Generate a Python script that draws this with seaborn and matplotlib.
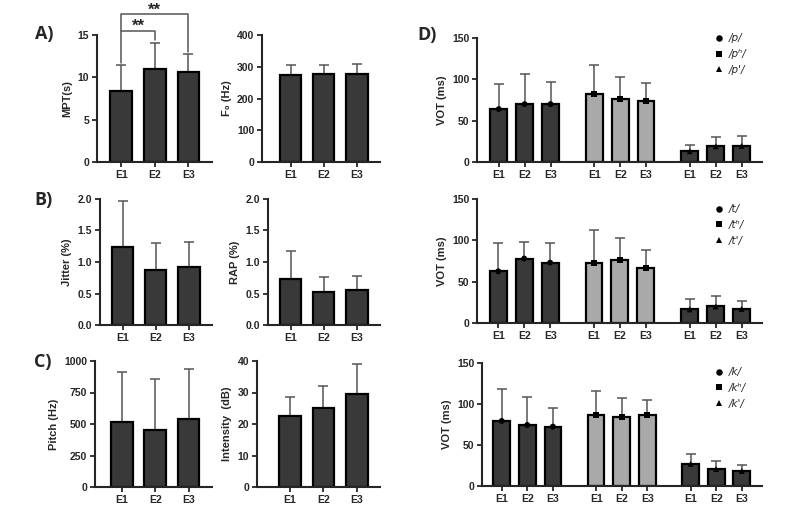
import numpy as np
import pandas as pd
import matplotlib
matplotlib.use('Agg')
import matplotlib.pyplot as plt
import seaborn as sns

# ---- data ----
sessions = ['E1', 'E2', 'E3']

mpt_mean = [8.4, 11.0, 10.6]
mpt_sd = [3.1, 3.0, 2.2]
f0_mean = [275, 278, 277]
f0_sd = [30, 27, 31]
jitter_mean = [1.24, 0.88, 0.92]
jitter_sd = [0.73, 0.42, 0.39]
rap_mean = [0.73, 0.52, 0.55]
rap_sd = [0.45, 0.24, 0.23]
pitch_mean = [518, 453, 539]
pitch_sd = [395, 407, 400]
intensity_mean = [22.6, 25.2, 29.5]
intensity_sd = [6.0, 6.9, 9.4]

# VOT, three phoneme groups x three sessions
p_labels = ['/p/', '/p\u02b0/', "/p'/"]
p_mean = [[64, 70, 70], [82, 76, 73.5], [13, 19, 19.5]]
p_sd = [[30, 37, 27], [35.5, 26.5, 22.5], [7, 11, 12.5]]

t_labels = ['/t/', '/t\u02b0/', "/t'/"]
t_mean = [[62.5, 78, 73], [73, 76, 66], [16.5, 20, 17]]
t_sd = [[34.5, 20.5, 24], [39, 26.5, 22.5], [12, 13, 10]]

k_labels = ['/k/', '/k\u02b0/', "/k'/"]
k_mean = [[79.3, 74.4, 72.4], [86.6, 83.7, 86.6], [27, 20.7, 18.3]]
k_sd = [[38.7, 34.6, 22.3], [29.7, 23.3, 18.4], [12, 9.3, 6.9]]

# ---- style ----
DARK = '#393939'
LIGHT = '#a9a9a9'
ERR = '#555555'

sns.set_style('ticks')
plt.rcParams['font.family'] = ['Liberation Sans', 'DejaVu Sans']
plt.rcParams['font.weight'] = 'bold'
plt.rcParams['axes.labelweight'] = 'bold'
plt.rcParams['axes.linewidth'] = 1.5
plt.rcParams['xtick.major.width'] = 1.3
plt.rcParams['ytick.major.width'] = 1.3
plt.rcParams['xtick.major.size'] = 3.5
plt.rcParams['ytick.major.size'] = 3.5
plt.rcParams['xtick.labelsize'] = 7.5
plt.rcParams['ytick.labelsize'] = 7.5
plt.rcParams['axes.labelsize'] = 8

W, H = 800, 507
fig = plt.figure(figsize=(W / 100, H / 100), dpi=100)


def px_axes(left, top, right, bottom):
    return fig.add_axes([left / W, 1 - bottom / H, (right - left) / W, (bottom - top) / H])


def finish(ax, ylabel, ylim, yticks, ytl=None):
    ax.set_ylim(*ylim)
    ax.set_yticks(yticks)
    if ytl is not None:
        ax.set_yticklabels(ytl)
    ax.set_ylabel(ylabel)
    ax.set_xlabel('')
    sns.despine(ax=ax)
    ax.tick_params(axis='both', pad=2)
    for lab in ax.get_xticklabels() + ax.get_yticklabels():
        lab.set_fontweight('bold')


def simple_bars(box, xlo, means, sds, ylabel, ylim, yticks, ytl=None):
    ax = px_axes(*box)
    sns.barplot(x=sessions, y=means, color=DARK, edgecolor='black', linewidth=1.6,
                width=0.65, errorbar=None, saturation=1, ax=ax)
    xs = [p.get_x() + p.get_width() / 2 for p in ax.patches]
    ax.errorbar(xs, means, yerr=[np.zeros(len(sds)), sds], fmt='none', ecolor=ERR,
                elinewidth=1.1, capsize=3.6, capthick=1.1, zorder=0)
    ax.set_xlim(xlo, 2.7)
    finish(ax, ylabel, ylim, yticks, ytl)
    return ax, xs


def vot_panel(box, xlo, labels, means, sds, legend_top):
    ax = px_axes(*box)
    rows = []
    for g in range(3):
        for s in range(3):
            rows.append({'pos': g * 3.69 + s, 'mean': means[g][s], 'sd': sds[g][s],
                         'phoneme': labels[g], 'shade': 'dark' if g != 1 else 'light'})
    df = pd.DataFrame(rows)
    sns.barplot(data=df, x='pos', y='mean', hue='shade', palette={'dark': DARK, 'light': LIGHT},
                native_scale=True, width=0.65, edgecolor='black', linewidth=1.6,
                errorbar=None, saturation=1, legend=False, ax=ax)
    ax.errorbar(df['pos'], df['mean'], yerr=[np.zeros(len(df)), df['sd']], fmt='none',
                ecolor=ERR, elinewidth=1.1, capsize=3.6, capthick=1.1, zorder=0)
    sns.scatterplot(data=df, x='pos', y='mean', style='phoneme', style_order=labels,
                    markers=['o', 's', '^'], color='black', s=18, edgecolor='none',
                    ax=ax, zorder=5)
    handles, labs = ax.get_legend_handles_labels()
    keep = [(h, l) for h, l in zip(handles, labs) if l in labels]
    ax.legend([h for h, _ in keep], [l for _, l in keep], loc='upper left',
              bbox_to_anchor=((717 - 8 - box[0]) / (box[2] - box[0]), legend_top),
              frameon=False, handletextpad=0.3, labelspacing=0.55, borderaxespad=0,
              handlelength=1.2, markerscale=1.1,
              prop={'style': 'italic', 'weight': 'normal', 'size': 7.5,
                    'family': ['DejaVu Sans']})
    ax.set_xticks(df['pos'])
    ax.set_xticklabels(sessions * 3)
    ax.set_xlim(xlo, 10.17)
    finish(ax, 'VOT (ms)', (0, 150), [0, 50, 100, 150])
    return ax


# ---- panel A ----
axA, xs = simple_bars((97, 35, 212, 162), -0.72, mpt_mean, mpt_sd, 'MPT(s)',
                      (0, 15), [0, 5, 10, 15])
line_kw = dict(color=ERR, lw=1.1, clip_on=False)
axA.plot([xs[0], xs[0], xs[1], xs[1]], [11.7, 15.5, 15.5, 14.4], **line_kw)
axA.plot([xs[0], xs[0], xs[2], xs[2]], [15.5, 17.5, 17.5, 13.0], **line_kw)
axA.text((xs[0] + xs[1]) / 2, 16.0, '**', ha='center', va='center', fontsize=12,
         fontweight='bold', clip_on=False)
axA.text((xs[0] + xs[2]) / 2, 17.95, '**', ha='center', va='center', fontsize=12,
         fontweight='bold', clip_on=False)

simple_bars((262, 35, 380, 162), -0.86, f0_mean, f0_sd, 'F\u2080 (Hz)',
            (0, 400), [0, 100, 200, 300, 400])

# ---- panel B ----
simple_bars((100, 199, 212, 325), -0.68, jitter_mean, jitter_sd, 'Jitter (%)',
            (0, 2.0), [0, 0.5, 1.0, 1.5, 2.0], ['0.0', '0.5', '1.0', '1.5', '2.0'])
simple_bars((268, 199, 380, 325), -0.68, rap_mean, rap_sd, 'RAP (%)',
            (0, 2.0), [0, 0.5, 1.0, 1.5, 2.0], ['0.0', '0.5', '1.0', '1.5', '2.0'])

# ---- panel C ----
simple_bars((95, 361, 212, 487), -0.8, pitch_mean, pitch_sd, 'Pitch (Hz)',
            (0, 1000), [0, 250, 500, 750, 1000])
simple_bars((257, 361, 380, 487), -0.99, intensity_mean, intensity_sd, 'Intensity  (dB)',
            (0, 40), [0, 10, 20, 30, 40])

# ---- panel D ----
vot_panel((477, 38, 762, 162), -0.84, p_labels, p_mean, p_sd, 1.07)
vot_panel((477, 199, 762, 323), -0.82, t_labels, t_mean, t_sd, 0.99)
vot_panel((482, 363, 762, 486), -0.77, k_labels, k_mean, k_sd, 1.0)

# panel letters
for lab, x, y in [('A)', 44, 34), ('B)', 44, 200), ('C)', 43, 362), ('D)', 427, 35)]:
    fig.text(x / W, 1 - y / H, lab, ha='center', va='center', fontsize=13,
             fontweight='bold', family=['Open Sans', 'DejaVu Sans'])

fig.savefig('out.png', dpi=100)
